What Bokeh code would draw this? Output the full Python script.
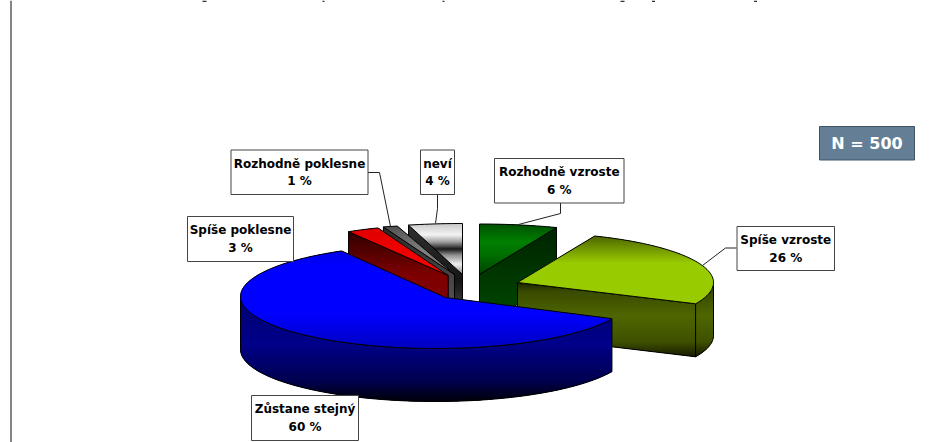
import math
from bokeh.plotting import figure
from bokeh.embed import file_html
from bokeh.resources import INLINE
from bokeh.core.properties import value

# Survey answers, clockwise from twelve o'clock
categories = ["Rozhodně vzroste", "Spíše vzroste", "Zůstane stejný",
              "Spíše poklesne", "Rozhodně poklesne", "neví"]
shares = [6, 26, 60, 3, 1, 4]
sample_note = "N = 500"

W, H = 938, 442
DEPTH = 53

# Per-slice geometry in page pixels: ellipse centre, radii, wedge apex
ellipse_cx = [479, 525, 435, 430, 454, 462]
ellipse_cy = [274, 282, 296, 275, 274, 274]
radius_x = [209, 188, 195, 170, 230, 217]
radius_y = [50.5, 50, 52, 50, 50, 51]
apex_x = [479, 517, 445, 447.7, 454, 462]
apex_y = [274, 282, 297, 275, 274, 274]

# Colour stops (fraction of shape height, colour) for top faces and side walls
top_ramps = [
    [(0, "#005000"), (0.35, "#008000"), (0.6, "#007000"), (1, "#004400")],
    [(0, "#4f6600"), (0.4, "#99cc00"), (1, "#99cc00")],
    [(0, "#0000e8"), (0.15, "#0000ff"), (0.65, "#0000ff"), (1, "#0000c0")],
    [(0, "#e00000"), (1, "#ff0000")],
    [(0, "#505050"), (0.5, "#808080"), (1, "#707070")],
    [(0, "#c8c8c8"), (0.22, "#f4f4f4"), (0.36, "#a0a0a0"), (0.5, "#181818"),
     (0.62, "#909090"), (0.8, "#f0f0f0"), (1, "#808080")],
]
wall_ramps = [
    [(0, "#002400"), (1, "#004c00")],
    [(0, "#1a2200"), (0.12, "#3a4b00"), (0.45, "#4f6600"), (0.8, "#3f5100"), (1, "#141a00")],
    [(0, "#000070"), (0.45, "#00008a"), (0.8, "#000050"), (1, "#000008")],
    [(0, "#300000"), (0.45, "#7f0000"), (1, "#7f0000")],
    [(0, "#2a2a2a"), (1, "#606060")],
    [(0, "#303030"), (0.55, "#151515"), (1, "#606060")],
]

# Callout boxes: left, right, top, bottom in page pixels
box_left = [494, 736.5, 251, 187, 230.5, 420]
box_right = [623.5, 834, 358, 293, 367.5, 454]
box_top = [158, 226, 395, 216, 149.5, 149.5]
box_bottom = [202.5, 270, 440, 261, 194, 194]
leader_x = [[560, 560, 518], [736, 725, 702], [], [], [367, 379, 390], [437, 437, 435]]
leader_y = [[202, 213, 224], [247.5, 247.5, 265], [], [], [172, 172, 226], [194, 208, 223]]

# Bottoms of the page title's letters that reach into the frame
title_stub_x = [204, 323, 443, 622, 653, 755]
title_stub_w = [4, 2, 2, 4, 3, 3]


def hex_rgb(c):
    return tuple(int(c[i:i + 2], 16) for i in (1, 3, 5))


def ramp_colour(ramp, t):
    for (t0, c0), (t1, c1) in zip(ramp, ramp[1:]):
        if t <= t1:
            f = 0 if t1 == t0 else (t - t0) / (t1 - t0)
            a, b = hex_rgb(c0), hex_rgb(c1)
            return "#%02x%02x%02x" % tuple(round(a[i] + (b[i] - a[i]) * f) for i in range(3))
    return ramp[-1][1]


def clip_y(pts, y0, y1):
    """Cut a polygon down to the horizontal band y0..y1."""
    def cut(points, inside, limit):
        out = []
        for i, q0 in enumerate(points):
            q1 = points[(i + 1) % len(points)]
            if inside(q0):
                out.append(q0)
            if inside(q0) != inside(q1):
                f = (limit - q0[1]) / (q1[1] - q0[1])
                out.append((q0[0] + (q1[0] - q0[0]) * f, limit))
        return out
    pts = cut(pts, lambda q: q[1] >= y0, y0)
    if pts:
        pts = cut(pts, lambda q: q[1] <= y1, y1)
    return pts


p = figure(width=W, height=H, x_range=(0, W), y_range=(H, 0),
           output_backend="svg", toolbar_location=None, min_border=0,
           outline_line_color=None, background_fill_color="white")
p.xaxis.visible = False
p.yaxis.visible = False
p.grid.visible = False


def shaded(pts, ramp, span=None):
    """Draw a polygon as overlapping colour bands over a solid base, then outline it."""
    ys = [q[1] for q in pts]
    xs = [q[0] for q in pts]
    lo, hi = span if span else (min(ys), max(ys))
    p.patch(xs, ys, fill_color=ramp_colour(ramp, 0.5), fill_alpha=1.0, line_color=None)
    xs_out, ys_out, cols = [], [], []
    y = math.floor(min(ys))
    while y < max(ys):
        band = clip_y(pts, y, y + 2)
        if len(band) >= 3:
            xs_out.append([q[0] for q in band])
            ys_out.append([q[1] for q in band])
            cols.append(ramp_colour(ramp, min(1, max(0, (y + 0.5 - lo) / (hi - lo)))))
        y += 1
    p.patches(xs_out, ys_out, fill_color=cols, fill_alpha=1.0, line_color=None)
    p.patch(xs, ys, fill_alpha=0, line_color="black", line_alpha=1.0, line_width=1)


def rim(i, theta):
    return (ellipse_cx[i] + radius_x[i] * math.sin(theta),
            ellipse_cy[i] - radius_y[i] * math.cos(theta))


def arc(i, a, b):
    n = max(3, int(abs(b - a) * 40))
    return [rim(i, a + (b - a) * k / n) for k in range(n + 1)]


# Slice boundaries come straight from the shares
total = sum(shares)
edges = [0]
for s in shares:
    edges.append(edges[-1] + s / total * 2 * math.pi)


def drop(points):
    return [(x, y + DEPTH) for x, y in points][::-1]


def draw_slice(i):
    a, b = edges[i], edges[i + 1]
    apex = (apex_x[i], apex_y[i])
    # Cut face that turns toward the viewer; the front slice shows only its curve
    if i != 2:
        face = [apex, rim(i, a) if math.sin(a) < 0 else rim(i, b)]
        shaded(face + drop(face), wall_ramps[i])
    # Curved outer wall where the rim faces the viewer
    lo, hi = max(a, math.pi / 2), min(b, 3 * math.pi / 2)
    if lo < hi:
        curve = arc(i, lo, hi)
        shaded(curve + drop(curve), wall_ramps[i],
               span=(min(q[1] for q in curve), max(q[1] for q in curve) + DEPTH))
    # Top face
    shaded([apex] + arc(i, a, b), top_ramps[i])


# Painter's order: back slices first, the big front slice last
for i in [5, 4, 3, 0, 1, 2]:
    draw_slice(i)

# Frame rule on the left and the title fragments along the top edge
p.segment([10.5], [0], [10.5], [H], line_color="#333333", line_width=1.2)
p.quad(left=[x - w / 2 for x, w in zip(title_stub_x, title_stub_w)],
       right=[x + w / 2 for x, w in zip(title_stub_x, title_stub_w)],
       top=[0] * 6, bottom=[1.5] * 6, fill_color="#333333", fill_alpha=1.0, line_color=None)

# Leader lines and callouts
for lx, ly in zip(leader_x, leader_y):
    if lx:
        p.line(lx, ly, line_color="#222222", line_width=1)

p.quad(left=box_left, right=box_right, top=box_top, bottom=box_bottom,
       fill_color="white", fill_alpha=1.0, line_color="#444444", line_width=1)
label_x = [(a + b) / 2 for a, b in zip(box_left, box_right)]
font = value("DejaVu Sans")
p.text(label_x, [t + 13.5 for t in box_top], text=categories, text_font=font,
       text_font_size="12px", text_font_style="bold", text_color="black",
       text_align="center", text_baseline="middle")
p.text(label_x, [t + 31 for t in box_top], text=[f"{s} %" for s in shares], text_font=font,
       text_font_size="12px", text_font_style="bold", text_color="black",
       text_align="center", text_baseline="middle")

# Sample size tag
p.quad(left=[819], right=[914], top=[126], bottom=[159.5],
       fill_color="#647f95", fill_alpha=1.0, line_color="#3f5566", line_width=1)
p.text([866.5], [143], text=[sample_note], text_font=font, text_font_size="16px",
       text_font_style="bold", text_color="white", text_align="center", text_baseline="middle")

open("out.html", "w").write(file_html(p, INLINE))
